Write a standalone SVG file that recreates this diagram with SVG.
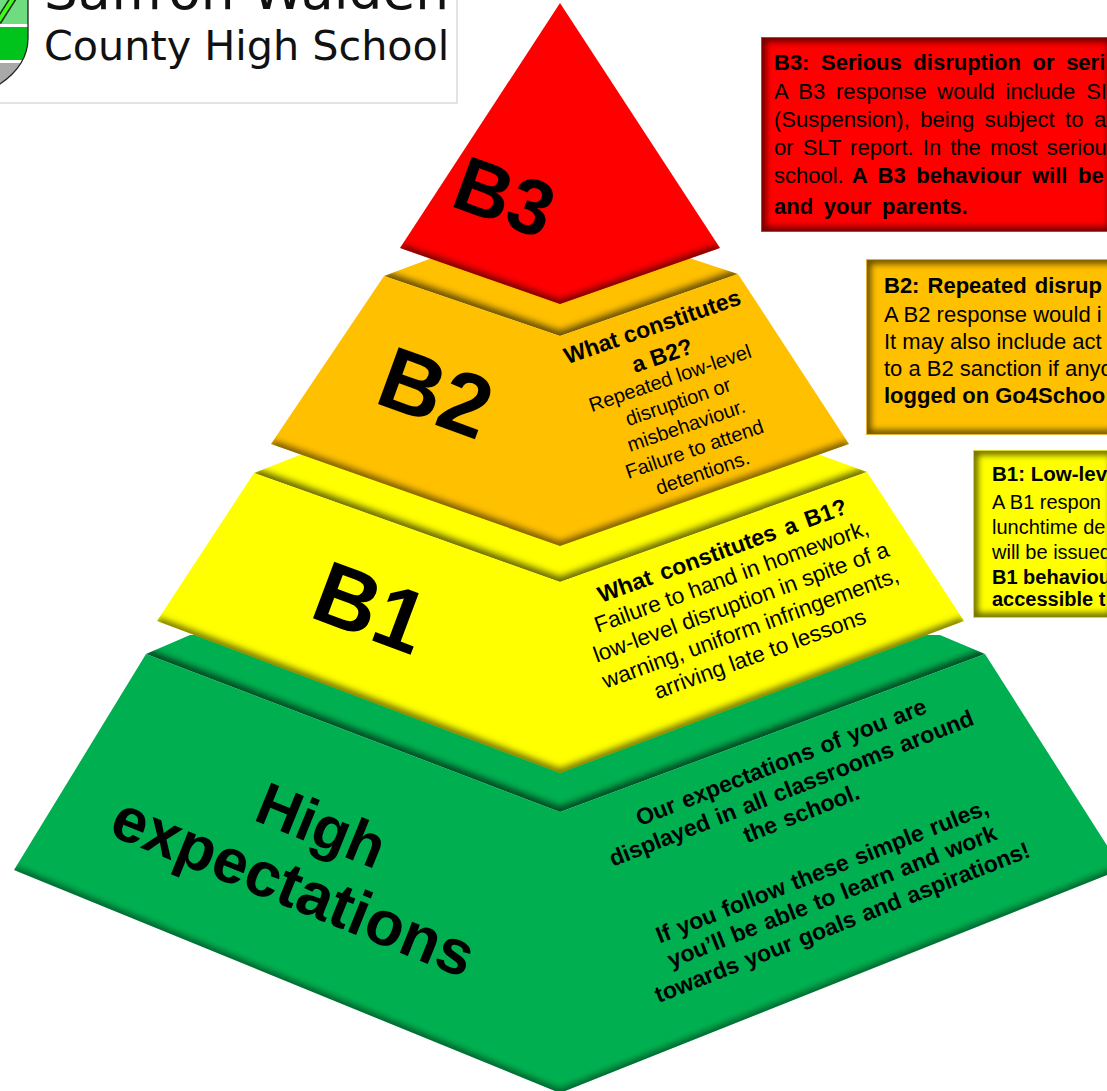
<svg xmlns="http://www.w3.org/2000/svg" width="1107" height="1091" viewBox="0 0 1107 1091">
<style>
text{font-family:"Liberation Sans",Arial,sans-serif;fill:#000}
.b{font-weight:700}
.big{font-weight:700;text-anchor:middle}
.c{text-anchor:middle}
.sh{fill:none;stroke:#000;filter:url(#blur)}
.vs{fill:none;stroke:#000;filter:url(#blurS)}
.logo{font-family:"DejaVu Sans",sans-serif;fill:#111}
.t3{font-size:22px}
.t2{font-size:22px}
.t1{font-size:20px}
.frame{fill:none}
.inner{fill:none;stroke:#000;stroke-width:8;stroke-opacity:.6;filter:url(#blurB)}
</style>
<defs>
<filter id="blur" x="-20%" y="-20%" width="140%" height="140%"><feGaussianBlur stdDeviation="3.5"/></filter>
<filter id="blurS" x="-200%" y="-5%" width="500%" height="110%"><feGaussianBlur stdDeviation="2"/></filter>
<filter id="blurB" x="-20%" y="-20%" width="140%" height="140%"><feGaussianBlur stdDeviation="3"/></filter>
<clipPath id="cRed"><polygon points="560,3 720,248 560,304 400,248"/></clipPath>
<clipPath id="cOL"><polygon points="384,276 440,255 680,255 738,274 560,336"/></clipPath>
<clipPath id="cOF"><polygon points="384,276 271,444 560,546 849,444 738,274 560,336"/></clipPath>
<clipPath id="cYL"><polygon points="254,473 305,453 815,453 867,472 560,582"/></clipPath>
<clipPath id="cYF"><polygon points="254,473 157,621 560,773 964,621 867,472 560,582"/></clipPath>
<clipPath id="cGL"><polygon points="146,654 190,635 940,635 985,654 560,812"/></clipPath>
<clipPath id="cGF"><polygon points="146,654 14,870 560,1093 1122,869 985,654 560,812"/></clipPath>
<clipPath id="c3"><rect x="762" y="38" width="345" height="193"/></clipPath>
<clipPath id="c2"><rect x="867" y="260" width="240" height="174"/></clipPath>
<clipPath id="c1"><rect x="974" y="451" width="133" height="166"/></clipPath>
<clipPath id="shield"><path d="M-5,-5H28V38C28,58 16,74 -5,87Z"/></clipPath>
</defs>

<g id="logo">
<rect x="-2" y="-2" width="459" height="105" fill="#fff" stroke="#c8c8c8" stroke-width="1"/>
<g clip-path="url(#shield)">
<rect x="-5" y="-5" width="33" height="30" fill="#6fdc7f"/>
<rect x="-5" y="24" width="33" height="3" fill="#fff"/>
<rect x="-5" y="27" width="33" height="33" fill="#00c41c"/>
<rect x="-5" y="60" width="33" height="3" fill="#fff"/>
<rect x="-5" y="63" width="33" height="26" fill="#a9a9a9"/>
<path d="M-2,22 L14,-3" stroke="#222" stroke-width="7" fill="none"/>
<path d="M-2,22 L14,-3" stroke="#39ff14" stroke-width="4" fill="none"/>
</g>
<path d="M28,-5V38C28,58 16,74 -3,86" fill="none" stroke="#222" stroke-width="1.3"/>
<text class="logo" font-size="53.4" x="44" y="9">Saffron Walden</text>
<text class="logo" font-size="41.3" x="44" y="60">County High School</text>
</g>

<g id="connectors"></g>

<g id="tier-green">
<polygon points="146,654 190,635 940,635 985,654 560,812" fill="#00b050"/>
<g clip-path="url(#cGL)">
<path class="sh" stroke-width="9" stroke-opacity=".65" d="M146,654 L560,812 L985,654"/>
<path class="vs" stroke-width="3" stroke-opacity=".4" d="M560,770V812"/>
</g>
<polygon points="146,654 14,870 560,1093 1122,869 985,654 560,812" fill="#00b050"/>
<g clip-path="url(#cGF)">
<path class="sh" stroke-width="6" stroke-opacity=".6" d="M14,870 L560,1093 L1122,869"/>
<path class="vs" stroke-width="3" stroke-opacity=".35" d="M561,812V1094"/>
</g>
<g transform="rotate(22 295 880)"><text class="big" font-size="60" x="299" y="840">High</text><text class="big" font-size="63" x="296" y="908">expectations</text></g>
<g transform="translate(781,762) rotate(-21.5)" font-size="23">
<text class="c b" x="0" y="8" word-spacing="1.5">Our expectations of you are</text>
<text class="c b" x="0" y="36" word-spacing="1.5">displayed in all classrooms around</text>
<text class="c b" x="0" y="63" word-spacing="1.5">the school.</text>
</g>
<g transform="translate(822,871) rotate(-21.5)" font-size="23">
<text class="c b" x="0" y="8" word-spacing="1.5">If you follow these simple rules,</text>
<text class="c b" x="0" y="35" word-spacing="1.5">you’ll be able to learn and work</text>
<text class="c b" x="0" y="63" word-spacing="1.5">towards your goals and aspirations!</text>
</g>
</g>

<g id="tier-b1">
<polygon points="254,473 305,453 815,453 867,472 560,582" fill="#ff0"/>
<g clip-path="url(#cYL)">
<path class="sh" stroke-width="9" stroke-opacity=".65" d="M254,473 L560,582 L867,472"/>
<path class="vs" stroke-width="3" stroke-opacity=".35" d="M560,540V582"/>
</g>
<polygon points="254,473 157,621 560,773 964,621 867,472 560,582" fill="#ff0"/>
<g clip-path="url(#cYF)">
<path class="sh" stroke-width="7" stroke-opacity=".65" d="M157,621 L560,773 L964,621"/>
<path class="vs" stroke-width="3" stroke-opacity=".4" d="M560,582V773"/>
</g>
<text class="big" font-size="88" transform="rotate(20.5 371 607)" x="371" y="638">B1</text>
<g transform="translate(722,550) rotate(-20)">
<text class="c b" font-size="23" x="0" y="8.5" word-spacing="3">What constitutes a B1?</text>
<text class="c" font-size="22.5" x="0" y="35.5">Failure to hand in homework,</text>
<text class="c" font-size="22.5" x="0" y="63">low-level disruption in spite of a</text>
<text class="c" font-size="22.5" x="0" y="90.5">warning, uniform infringements,</text>
<text class="c" font-size="22.5" x="0" y="118">arriving late to lessons</text>
</g>
</g>

<g id="tier-b2">
<polygon points="384,276 440,255 680,255 738,274 560,336" fill="#ffc000"/>
<g clip-path="url(#cOL)">
<path class="sh" stroke-width="9" stroke-opacity=".65" d="M384,276 L560,336 L738,274"/>
<path class="vs" stroke-width="3" stroke-opacity=".35" d="M560,300V336"/>
</g>
<polygon points="384,276 271,444 560,546 849,444 738,274 560,336" fill="#ffc000"/>
<g clip-path="url(#cOF)">
<path class="sh" stroke-width="7" stroke-opacity=".65" d="M271,444 L560,546 L849,444"/>
<path class="vs" stroke-width="3" stroke-opacity=".4" d="M560,336V546"/>
</g>
<text class="big" font-size="88" transform="rotate(20 436 392)" x="436" y="423">B2</text>
<g transform="translate(652,326) rotate(-19)">
<text class="c b" font-size="23" x="0" y="8.5">What constitutes</text>
<text class="c b" font-size="23" x="0" y="39">a B2?</text>
<text class="c" font-size="20" x="0" y="62">Repeated low-level</text>
<text class="c" font-size="20" x="0" y="87">disruption or</text>
<text class="c" font-size="20" x="0" y="112">misbehaviour.</text>
<text class="c" font-size="20" x="0" y="137">Failure to attend</text>
<text class="c" font-size="20" x="0" y="162">detentions.</text>
</g>
</g>

<g id="tier-b3">
<polygon points="560,3 720,248 560,304 400,248" fill="#f00"/>
<g clip-path="url(#cRed)">
<path class="sh" stroke-width="7" stroke-opacity=".65" d="M400,248 L560,304 L720,248"/>
<path class="vs" stroke-width="5" stroke-opacity=".5" d="M560,3V304"/>
</g>
<text class="big" font-size="78" transform="rotate(20 505 196)" x="505" y="224">B3</text>
</g>

<g id="box-b3">
<rect x="762" y="38" width="350" height="193" fill="#f00"/>
<g clip-path="url(#c3)"><rect x="762" y="38" width="350" height="193" class="inner"/></g>
<rect x="761.5" y="37.5" width="350" height="194" class="frame" stroke="#e8282c"/>
<text class="t3 b" x="774" y="70" word-spacing="5.5">B3: Serious disruption or seri</text>
<text class="t3" x="774" y="99" word-spacing="4.7">A B3 response would include SI</text>
<text class="t3" x="774" y="127" word-spacing="4.5">(Suspension), being subject to a</text>
<text class="t3" x="774" y="155" word-spacing="3">or SLT report. In the most seriou</text>
<text class="t3" x="774" y="183" word-spacing="2">school. <tspan class="b" word-spacing="4.5">A B3 behaviour will be</tspan></text>
<text class="t3 b" x="774" y="214" word-spacing="4.5">and your parents.</text>
</g>

<g id="box-b2">
<rect x="867" y="260" width="250" height="174" fill="#ffc000"/>
<g clip-path="url(#c2)"><rect x="867" y="260" width="250" height="174" class="inner"/></g>
<rect x="866.5" y="259.5" width="250" height="175" class="frame" stroke="#e2b430"/>
<text class="t2 b" x="884" y="293" word-spacing="2">B2: Repeated disrup</text>
<text class="t2" x="884" y="322">A B2 response would i</text>
<text class="t2" x="884" y="349">It may also include act</text>
<text class="t2" x="884" y="376">to a B2 sanction if anyo</text>
<text class="t2 b" x="884" y="403">logged on Go4Schoo</text>
</g>

<g id="box-b1">
<rect x="974" y="451" width="140" height="166" fill="#ff0"/>
<g clip-path="url(#c1)"><rect x="974" y="451" width="140" height="166" class="inner"/></g>
<rect x="973.5" y="450.5" width="140" height="167" class="frame" stroke="#d8d830"/>
<text class="t1 b" x="992" y="481" style="font-size:20.5px">B1: Low-lev</text>
<text class="t1" x="992" y="509">A B1 respon</text>
<text class="t1" x="992" y="534">lunchtime de</text>
<text class="t1" x="992" y="559">will be issued</text>
<text class="t1 b" x="992" y="584">B1 behaviou</text>
<text class="t1 b" x="992" y="606">accessible t</text>
</g>
</svg>
